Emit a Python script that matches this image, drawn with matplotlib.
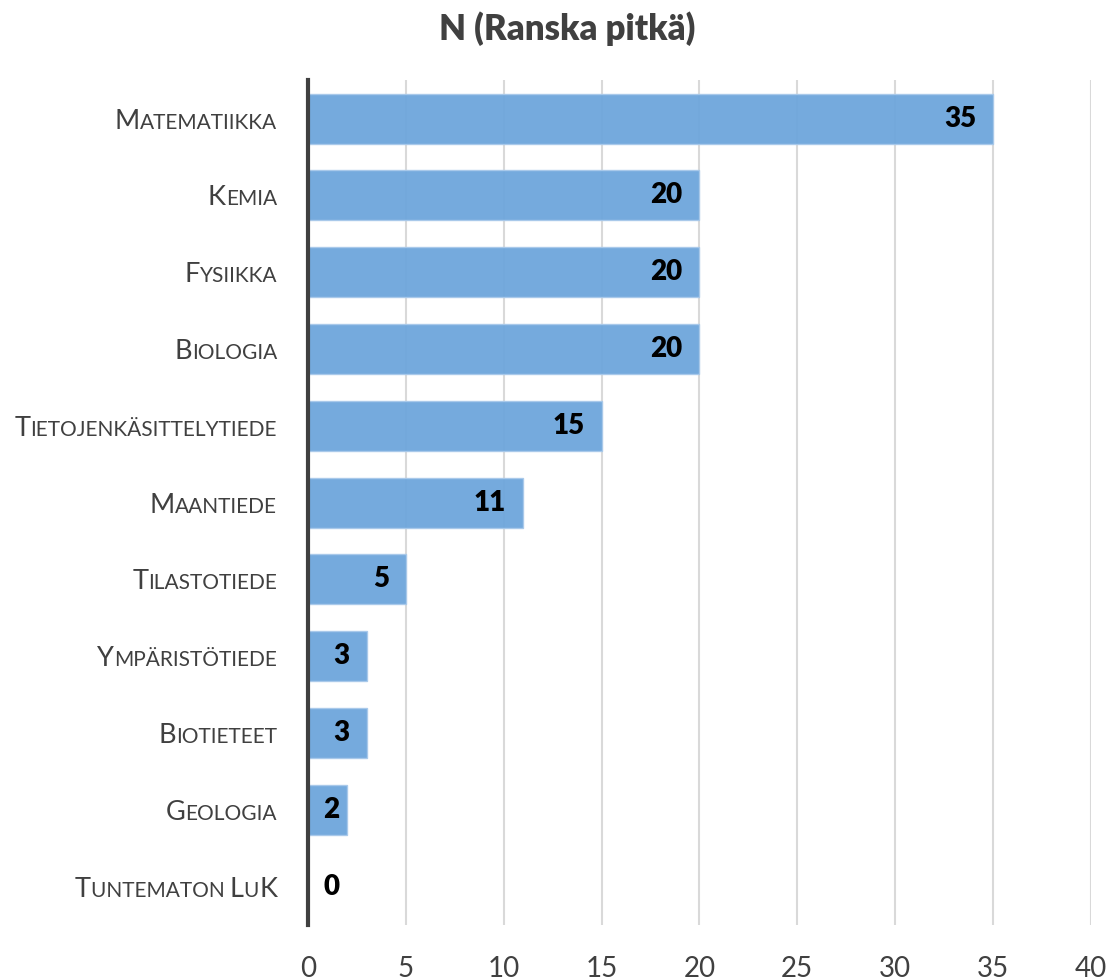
import numpy as np
from matplotlib import pyplot as plt
from matplotlib import transforms

categories = ['Matematiikka', 'Kemia', 'Fysiikka', 'Biologia', 'Tietojenkäsittelytiede',
              'Maantiede', 'Tilastotiede', 'Ympäristötiede', 'Biotieteet', 'Geologia',
              'Tuntematon LuK']
values = [35, 20, 20, 20, 15, 11, 5, 3, 3, 2, 0]
xticks = [0, 5, 10, 15, 20, 25, 30, 35, 40]
title = 'N (Ranska pitkä)'

FONT = 'Lato'
TEXT_COLOR = '#404040'
DPI = 100

fig = plt.figure(figsize=(11.12, 9.8), dpi=DPI)
ax = fig.add_axes([0.277, 0.0561, 0.704, 0.862])

y = np.arange(len(categories))
ax.barh(y, values, height=0.65, color='#6ea6dc', alpha=0.95,
        edgecolor='#a9c9ea', linewidth=1.0, zorder=2)

ax.set_xlim(0, 40)
ax.set_ylim(len(categories) - 0.5, -0.5)
ax.set_xticks(xticks)
ax.set_xticklabels([str(t) for t in xticks], fontfamily=FONT, fontsize=20, color=TEXT_COLOR)
ax.set_yticks([])
ax.tick_params(axis='x', length=0, pad=22)
ax.grid(axis='x', color='#d9d9d9', linewidth=1.5, zorder=1)
for s in ['top', 'right', 'bottom']:
    ax.spines[s].set_visible(False)
ax.spines['left'].set_color('#404040')
ax.spines['left'].set_linewidth(3)
ax.spines['left'].set_zorder(3)

fig.text(0.51, 0.971, title, ha='center', va='center', fontfamily=FONT,
         fontsize=25, fontweight='heavy', color=TEXT_COLOR)

# value labels, inside end of the bar
for yi, v in zip(y, values):
    pos = max(v - 0.87, 1.6)
    ax.text(pos, yi, str(v), ha='right', va='center', fontfamily=FONT,
            fontsize=20, fontweight='heavy', color='black', zorder=4)

# small-caps category labels drawn right to left
renderer = fig.canvas.get_renderer()
base = ax.get_yaxis_transform()
BIG, SMALL = 19.5, 15


def runs(label):
    out = []
    for ch in label:
        size = BIG if ch.isupper() else SMALL
        if out and out[-1][1] == size:
            out[-1][0] += ch.upper()
        else:
            out.append([ch.upper(), size])
    return out


for yi, label in zip(y, categories):
    dx = -31 * 72 / DPI
    for txt, size in reversed(runs(label)):
        tr = transforms.offset_copy(base, fig=fig, x=dx, y=-BIG * 0.37, units='points')
        t = ax.text(0, yi, txt, transform=tr, ha='right', va='baseline',
                    fontfamily=FONT, fontsize=size, color=TEXT_COLOR)
        w = t.get_window_extent(renderer).width
        dx -= w * 72 / DPI

fig.savefig('out.png', dpi=DPI)
